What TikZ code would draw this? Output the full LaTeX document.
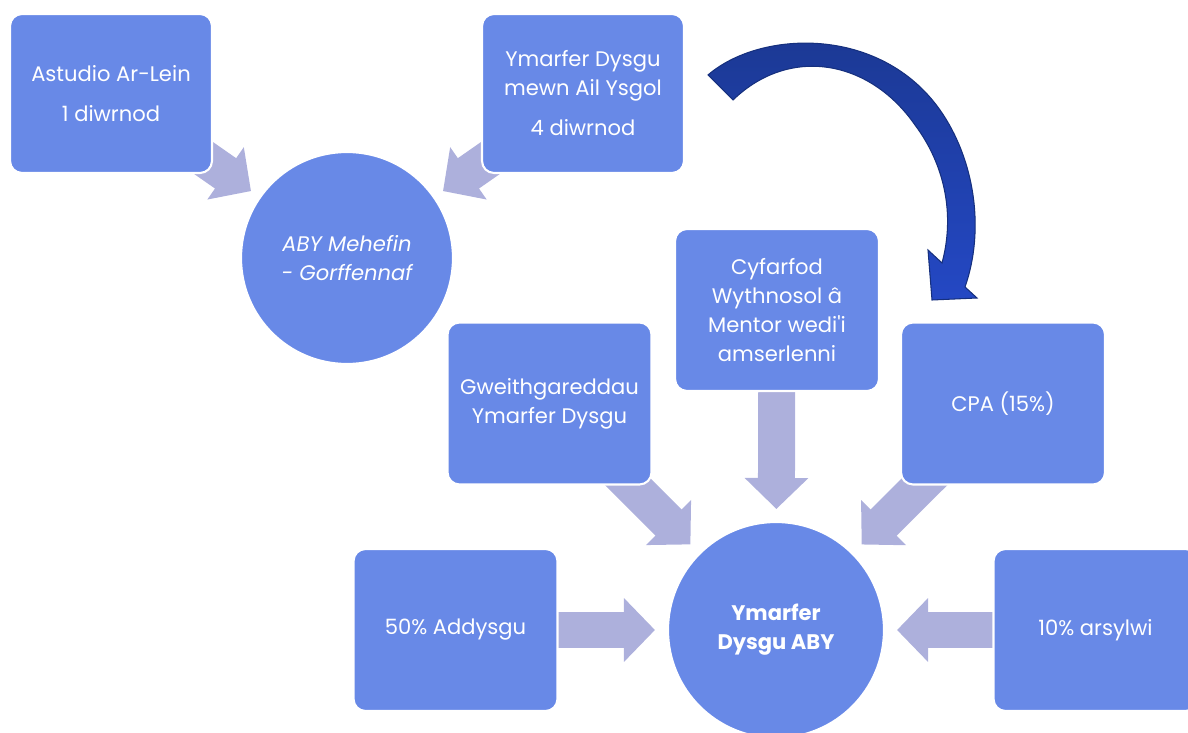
\documentclass[tikz,border=0pt]{standalone}
\usepackage{fontspec}
\setmainfont{Poppins}
\usepackage{tikz}
\usetikzlibrary{arrows.meta}
\usetikzlibrary{backgrounds}

\definecolor{bleuboite}{HTML}{6889E7}
\definecolor{lavande}{HTML}{ADB0DC}
\definecolor{bleufonce}{HTML}{1B3892}
\definecolor{bleuclair}{HTML}{2448C4}
\definecolor{bleutrait}{HTML}{16307E}

\tikzset{
    boite/.style={draw=white, line width=1.2pt, fill=bleuboite, rounded corners=0.24cm,
        text=white, align=center, inner sep=0pt, minimum width=4.08cm, minimum height=3.24cm,
        font=\fontsize{12}{16.5}\selectfont},
    rond/.style={circle, draw=white, line width=1.2pt, fill=bleuboite, text=white,
        align=center, inner sep=0pt, font=\fontsize{12}{16.5}\selectfont},
    fleche/.style={draw=lavande, line width=0.74cm,
        -{Triangle[length=0.62cm, width=1.24cm]}, shorten >=0.24cm},
}

\begin{document}
\begin{tikzpicture}[x=0.02cm, y=-0.02cm]
    \clip (0,0) rectangle (1188,733);
    \useasboundingbox (0,0) rectangle (1188,733);

    % les boites
    \node[boite, minimum width=4.04cm, minimum height=3.18cm] (astudio) at (111,93.5) {Astudio Ar-Lein\\[0.22cm]1 diwrnod};
    \node[boite, minimum width=4.04cm, minimum height=3.18cm] (ailysgol) at (583,93.5) {Ymarfer Dysgu\\mewn Ail Ysgol\\[0.22cm]4 diwrnod};
    \node[rond, minimum size=4.24cm] (mehefin) at (347,258) {\itshape ABY Mehefin\\\itshape - Gorffennaf};

    \node[boite] (cyfarfod) at (777,310) {Cyfarfod\\Wythnosol â\\Mentor wedi\textquotesingle i\\amserlenni};
    \node[boite] (gweith) at (549.5,403.5) {Gweithgareddau\\Ymarfer Dysgu};
    \node[boite] (cpa) at (1003,403.5) {CPA (15\%)};
    \node[boite] (addysgu) at (455.5,630) {50\% Addysgu};
    \node[boite] (arsylwi) at (1095.5,630) {10\% arsylwi};
    \node[rond, minimum size=4.32cm, font=\fontsize{12}{16.5}\selectfont\bfseries] (aby) at (776,630) {Ymarfer\\Dysgu ABY};

    % les fleches
    \begin{scope}[on background layer]
        \draw[fleche, shorten >=0.2cm] (astudio.center) -- (mehefin);
        \draw[fleche, shorten >=0.2cm] (ailysgol.center) -- (mehefin);
        \foreach \b in {cyfarfod,gweith,cpa,addysgu,arsylwi}
            \draw[fleche] (\b.center) -- (aby);
    \end{scope}

    % la grande fleche courbe
    \draw[draw=bleutrait, line width=0.6pt, top color=bleufonce, bottom color=bleuclair]
        (708,75) .. controls (760,30) and (880,25) .. (940,110)
        .. controls (975,160) and (985,230) .. (965,287)
        -- (977,298) -- (932,300) -- (928,250) -- (942,263)
        .. controls (955,215) and (945,165) .. (915,125)
        .. controls (870,60) and (790,45) .. (733,100) -- cycle;
\end{tikzpicture}
\end{document}
